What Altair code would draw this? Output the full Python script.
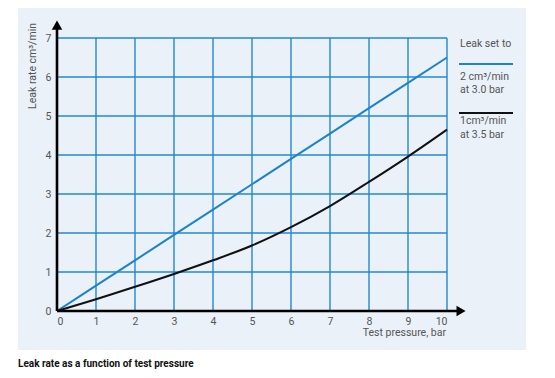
import altair as alt
import pandas as pd

# ---- data ----
pressure = [0, 1, 2, 3, 4, 5, 6, 7, 8, 9, 10]
leak_2cm = [0, 0.65, 1.3, 1.95, 2.6, 3.25, 3.9, 4.55, 5.2, 5.85, 6.5]
leak_1cm = [0, 0.30, 0.62, 0.95, 1.30, 1.68, 2.15, 2.69, 3.31, 3.96, 4.65]
x_ticks = [0, 1, 2, 3, 4, 5, 6, 7, 8, 9, 10]
y_ticks = [0, 1, 2, 3, 4, 5, 6, 7]
legend_head = "Leak set to"
legend_a = ["2 cm³/min", "at 3.0 bar"]
legend_b = ["1cm³/min", "at 3.5 bar"]
y_title = "Leak rate cm³/min"
x_title = "Test pressure, bar"
caption = "Leak rate as a function of test pressure"

W, H = 390, 273
FONT = "Roboto"
BLUE = "#1b84cc"
GRID = "#2188d2"
PANEL = "#eaf1f9"
GREY = "#555555"

df = pd.DataFrame({
    "p": pressure * 2,
    "leak": leak_2cm + leak_1cm,
    "series": ["a"] * len(pressure) + ["b"] * len(pressure),
})

xs = alt.Scale(domain=[0, 10], nice=False, zero=False)
ys = alt.Scale(domain=[0, 7], nice=False, zero=False)
AX = alt.Axis(values=x_ticks, grid=False, domain=False, ticks=False, labelPadding=5, title=None, zindex=2)
AY = alt.Axis(values=y_ticks, grid=False, domain=False, ticks=False, labelPadding=6, title=None, zindex=2)
one = alt.Data(values=[{}])

panel = alt.Chart(one).mark_rect(color=PANEL).encode(
    x=alt.value(-39), x2=alt.value(469), y=alt.value(-30), y2=alt.value(312)
)

vgrid = alt.Chart(pd.DataFrame({"t": x_ticks})).mark_rule(color=GRID, strokeWidth=1.4).encode(
    x=alt.X("t:Q", scale=xs, axis=AX), y=alt.value(0), y2=alt.value(H)
)
hgrid = alt.Chart(pd.DataFrame({"t": y_ticks})).mark_rule(color=GRID, strokeWidth=1.4).encode(
    y=alt.Y("t:Q", scale=ys, axis=AY), x=alt.value(0), x2=alt.value(W)
)

lines = alt.Chart(df).mark_line(interpolate="monotone", strokeWidth=2).encode(
    x=alt.X("p:Q", scale=xs, axis=AX),
    y=alt.Y("leak:Q", scale=ys, axis=AY),
    color=alt.Color("series:N", scale=alt.Scale(domain=["a", "b"], range=[BLUE, "#111111"]), legend=None),
)

xaxis = alt.Chart(one).mark_rule(color="black", strokeWidth=2.6).encode(
    x=alt.datum(0, scale=xs, axis=AX), x2=alt.datum(10.3), y=alt.datum(0, scale=ys, axis=AY)
)
yaxis = alt.Chart(one).mark_rule(color="black", strokeWidth=2.6).encode(
    y=alt.datum(0, scale=ys, axis=AY), y2=alt.datum(7.25), x=alt.datum(0, scale=xs, axis=AX)
)
xarrow = alt.Chart(one).mark_point(shape="triangle-right", filled=True, color="black", size=110, opacity=1).encode(
    x=alt.datum(10.36, scale=xs, axis=AX), y=alt.datum(0, scale=ys, axis=AY)
)
yarrow = alt.Chart(one).mark_point(shape="triangle-up", filled=True, color="black", size=110, opacity=1).encode(
    x=alt.datum(0, scale=xs, axis=AX), y=alt.datum(7.33, scale=ys, axis=AY)
)


def txt(s, x, y, size=10.5, color=GREY, weight="normal", align="left", angle=0):
    return alt.Chart(one).mark_text(
        text=s, font=FONT, fontSize=size, color=color, fontWeight=weight,
        align=align, baseline="middle", angle=angle
    ).encode(x=alt.value(x), y=alt.value(y))


def seg(color, y):
    return alt.Chart(one).mark_rule(color=color, strokeWidth=2).encode(
        x=alt.value(402), x2=alt.value(456), y=alt.value(y)
    )


layers = [
    panel, vgrid, hgrid, lines, xaxis, yaxis, xarrow, yarrow,
    txt(legend_head, 403, 6),
    seg(BLUE, 26),
    txt(legend_a[0], 403, 39),
    txt(legend_a[1], 403, 52),
    seg("#111111", 75),
    txt(legend_b[0], 403, 83),
    txt(legend_b[1], 403, 97),
    txt(x_title, 389, 295, align="right"),
    txt(y_title, -24, -15, align="right", angle=270),
    txt(caption, -39, 326, size=10, color="#111111", weight="bold"),
]

chart = alt.layer(*layers).properties(
    width=W, height=H,
    autosize=alt.AutoSizeParams(type="none"),
    padding={"left": 49, "top": 30, "right": 100, "bottom": 59},
    background="white",
).configure_view(stroke=None).configure_axis(
    labelFont=FONT, labelFontSize=10.5, labelColor=GREY
)

chart.save("out.html", embed_options={"renderer": "svg", "actions": False})
